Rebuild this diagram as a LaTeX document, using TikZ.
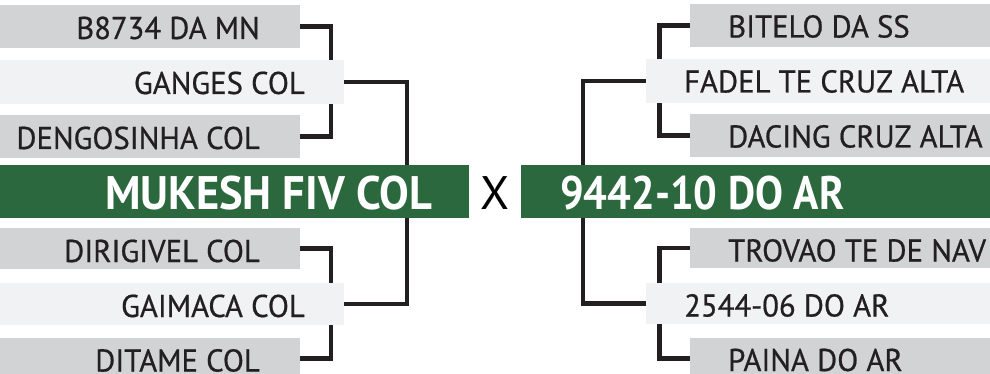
\documentclass[tikz,border=0pt]{standalone}
\usepackage{fontspec}
\setmainfont{PT Sans}
\newfontfamily\labelfont[FakeStretch=0.975,FakeBold=0.6]{PT Sans}
\usetikzlibrary{calc,backgrounds}
\definecolor{boxgrey}{HTML}{D1D3D4}
\definecolor{boxlight}{HTML}{F1F2F3}
\definecolor{bargreen}{HTML}{2C683D}
\definecolor{ink}{HTML}{231F20}
\tikzset{
 box/.style={rectangle, inner sep=0pt, outer sep=0pt, anchor=north west},
 greybox/.style={box, fill=boxgrey},
 lightbox/.style={box, fill=boxlight},
 greenbar/.style={box, fill=bargreen, minimum height=53},
 horse/.style={inner sep=0pt, text=ink, font=\labelfont\fontsize{31.5}{36}\selectfont},
 lname/.style={horse, anchor=base east},
 rname/.style={horse, anchor=base west},
 bigname/.style={inner sep=0pt, text=white, font=\bfseries\fontsize{47}{52}\selectfont, anchor=base west, transform shape},
 link/.style={draw=ink, line width=4.6pt, line join=miter, line cap=butt},
}
\begin{document}
\begin{tikzpicture}[x=1pt,y=-1pt]
\useasboundingbox (0,0) rectangle (990,374);
% green bars
\node[greenbar, minimum width=469] (G1) at (0,165) {};
\node[greenbar, minimum width=469] (G2) at (521,165) {};
\node[bigname, xscale=0.945] (T1) at (105,209) {MUKESH FIV COL};
\node[bigname, xscale=0.89] (T2) at (560,209) {9442-10 DO AR};
\node[inner sep=0pt, text=black, font=\fontsize{47}{52}\selectfont, anchor=base] (vs) at (495,210) {X};
% left boxes
\node[greybox, minimum width=300, minimum height=42.7] (L1) at (0,5) {};
\node[lightbox, minimum width=344, minimum height=44] (L2) at (0,60) {};
\node[greybox, minimum width=300, minimum height=43] (L3) at (0,115) {};
\node[greybox, minimum width=300, minimum height=41] (L4) at (0,228) {};
\node[lightbox, minimum width=344, minimum height=42] (L5) at (0,283) {};
\node[greybox, minimum width=300, minimum height=41] (L6) at (0,338) {};
\node[lname] (n1) at ($(L1.north east)+(-40,34)$) {B8734 DA MN};
\node[lname] (n2) at ($(L2.north east)+(-39,34)$) {GANGES COL};
\node[lname] (n3) at ($(L3.north east)+(-40,34)$) {DENGOSINHA COL};
\node[lname] (n4) at ($(L4.north east)+(-40,34)$) {DIRIGIVEL COL};
\node[lname] (n5) at ($(L5.north east)+(-39,34)$) {GAIMACA COL};
\node[lname] (n6) at ($(L6.north east)+(-40,33.5)$) {DITAME COL};
% right boxes
\node[greybox, minimum width=300, minimum height=43] (R1) at (690,4) {};
\node[lightbox, minimum width=344, minimum height=44] (R2) at (646,59) {};
\node[greybox, minimum width=300, minimum height=43] (R3) at (690,114) {};
\node[greybox, minimum width=300, minimum height=40] (R4) at (690,228) {};
\node[lightbox, minimum width=344, minimum height=41] (R5) at (646,283) {};
\node[greybox, minimum width=300, minimum height=41] (R6) at (690,338) {};
\node[rname] (m1) at ($(R1.north west)+(38,33.5)$) {BITELO DA SS};
\node[rname] (m2) at ($(R2.north west)+(38,33.5)$) {FADEL TE CRUZ ALTA};
\node[rname] (m3) at ($(R3.north west)+(38,33.5)$) {DACING CRUZ ALTA};
\node[rname] (m4) at ($(R4.north west)+(38,33.5)$) {TROVAO TE DE NAV};
\node[rname] (m5) at ($(R5.north west)+(38,33.5)$) {2544-06 DO AR};
\node[rname] (m6) at ($(R6.north west)+(38,33)$) {PAINA DO AR};
% connectors
\begin{scope}[on background layer]
\draw[link] (L1.east) -| ($(L2.north east)+(-13,0)$);
\draw[link] (L3.east) -| ($(L2.south east)+(-13,0)$);
\draw[link] (L2.east) -| ($(G1.north east)+(-62,0)$);
\draw[link] (L4.east) -| ($(L5.north east)+(-13,0)$);
\draw[link] (L6.east) -| ($(L5.south east)+(-13,0)$);
\draw[link] (L5.east) -| ($(G1.south east)+(-62,0)$);
\draw[link] (R1.west) -| ($(R2.north west)+(13.5,0)$);
\draw[link] (R3.west) -| ($(R2.south west)+(13.5,0)$);
\draw[link] (R2.west) -| ($(G2.north west)+(62,0)$);
\draw[link] (R4.west) -| ($(R5.north west)+(13.5,0)$);
\draw[link] (R6.west) -| ($(R5.south west)+(13.5,0)$);
\draw[link] (R5.west) -| ($(G2.south west)+(62,0)$);
\end{scope}
\end{tikzpicture}
\end{document}
